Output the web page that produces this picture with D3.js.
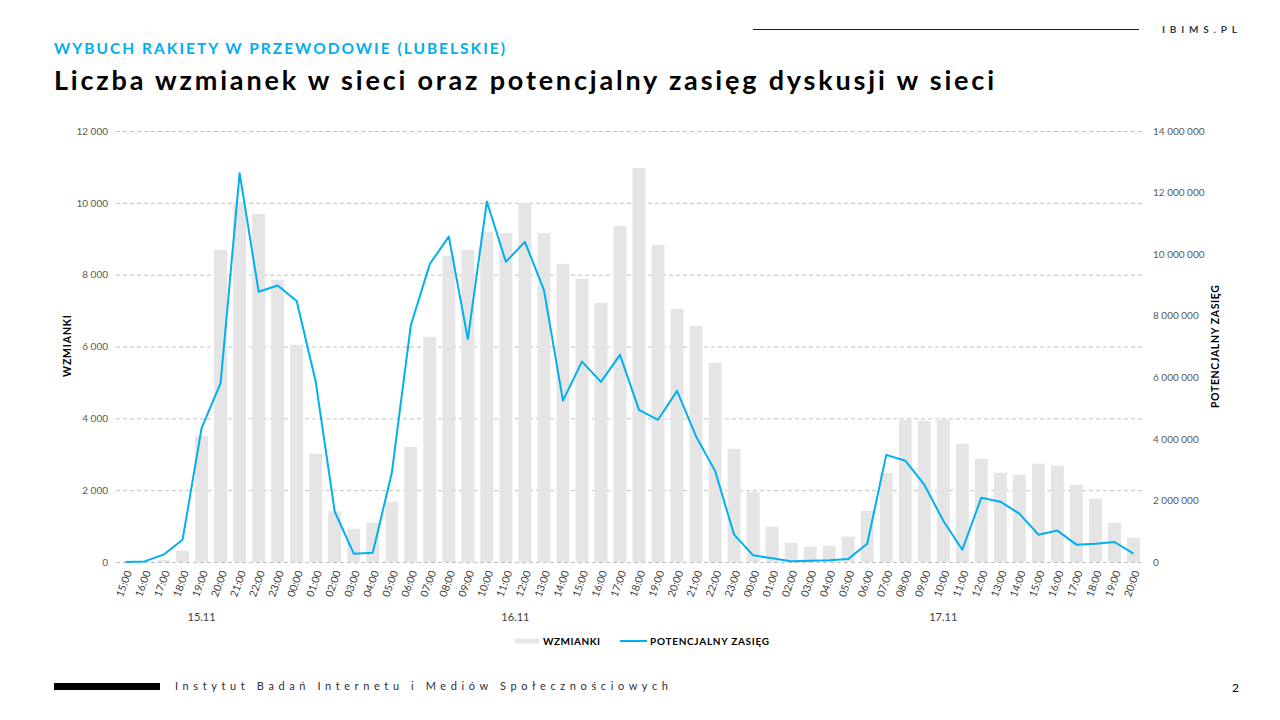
<!DOCTYPE html>
<html><head><meta charset="utf-8">
<script src="https://cdn.jsdelivr.net/npm/d3@7/dist/d3.min.js"></script>
<style>body{margin:0;background:#fff} svg{display:block}</style>
</head><body>
<svg id="c" width="1280" height="720"></svg>
<script>
// ---- data ----
const dayLabels = ["15.11", "16.11", "17.11"];
const dayHours = [
  ["15:00","16:00","17:00","18:00","19:00","20:00","21:00","22:00","23:00"],
  ["00:00","01:00","02:00","03:00","04:00","05:00","06:00","07:00","08:00","09:00","10:00","11:00","12:00","13:00","14:00","15:00","16:00","17:00","18:00","19:00","20:00","21:00","22:00","23:00"],
  ["00:00","01:00","02:00","03:00","04:00","05:00","06:00","07:00","08:00","09:00","10:00","11:00","12:00","13:00","14:00","15:00","16:00","17:00","18:00","19:00","20:00"]
];
const mentions = [
  5, 15, 50, 315, 3515, 8690, 10030, 9690, 7855,
  6047, 3014, 1410, 927, 1094, 1679, 3209, 6269, 8523, 8690, 9190, 9163, 9997, 9163, 8300, 7883, 7215, 9357, 10971, 8829, 7048, 6575, 5546, 3153,
  1957, 983, 538, 427, 454, 705, 1428, 2485, 3960, 3932, 3960, 3292, 2875, 2485, 2430, 2736, 2680, 2152, 1762, 1094, 677
];
const reach = [
  0, 20000, 238000, 725000, 4349000, 5810000, 12630000, 8780000, 8980000,
  8480000, 5860000, 1640000, 270000, 303000, 2890000, 7680000, 9680000, 10570000, 7240000, 11710000, 9750000, 10400000, 8840000, 5240000, 6510000, 5850000, 6730000, 4940000, 4620000, 5560000, 4080000, 2960000, 887000,
  216000, 119000, 22000, 43000, 54000, 97000, 595000, 3480000, 3290000, 2510000, 1340000, 400000, 2090000, 1960000, 1570000, 887000, 1020000, 563000, 595000, 649000, 270000
];
const leftTicks = [0, 2000, 4000, 6000, 8000, 10000, 12000];
const rightTicks = [0, 2000000, 4000000, 6000000, 8000000, 10000000, 12000000, 14000000];

// ---- build ----
const cats = [];
dayHours.forEach((hs, d) => hs.forEach(h => cats.push({key: dayLabels[d] + " " + h, hour: h, day: d})));
const rows = cats.map((c, i) => ({...c, m: mentions[i], r: reach[i]}));

const svg = d3.select("#c");
const L = 116, R = 1143, B = 562, T = 131;
const fmt = v => d3.format(",")(v).replace(/,/g, " ");

const x = d3.scaleBand().domain(cats.map(c => c.key)).range([L, R]).paddingInner(0.32).paddingOuter(0.16);
const yL = d3.scaleLinear().domain([0, 12000]).range([B, T]);
const yR = d3.scaleLinear().domain([0, 14000000]).range([B, T]);

// header
svg.append("text").attr("x", 54).attr("y", 54).text("WYBUCH RAKIETY W PRZEWODOWIE (LUBELSKIE)")
  .attr("font-family", "Lato").attr("font-weight", 700).attr("font-size", 15.5).attr("fill", "#00aeef")
  .attr("textLength", 451).attr("lengthAdjust", "spacing");
svg.append("text").attr("x", 54).attr("y", 90).text("Liczba wzmianek w sieci oraz potencjalny zasięg dyskusji w sieci")
  .attr("font-family", "Lato").attr("font-weight", 700).attr("font-size", 27).attr("fill", "#000")
  .attr("textLength", 940).attr("lengthAdjust", "spacing");
svg.append("line").attr("x1", 753).attr("x2", 1139).attr("y1", 29.5).attr("y2", 29.5).attr("stroke", "#1b1e2b").attr("stroke-width", 1);
svg.append("text").attr("x", 1162).attr("y", 33).text("IBIMS.PL")
  .attr("font-family", "Lato").attr("font-weight", 700).attr("font-size", 10).attr("fill", "#333a45")
  .attr("textLength", 75).attr("lengthAdjust", "spacing");

// grid
const grid = svg.append("g").attr("transform", `translate(${L},0)`)
  .call(d3.axisLeft(yL).tickValues(leftTicks).tickSize(-(R - L)).tickFormat(""));
grid.select(".domain").remove();
grid.selectAll("line").attr("stroke", "#c0c0c0").attr("stroke-dasharray", "4,3");

// left axis labels
const ax = svg.append("g").attr("transform", `translate(${L},0)`)
  .call(d3.axisLeft(yL).tickValues(leftTicks).tickSize(0).tickPadding(8).tickFormat(fmt));
ax.select(".domain").remove();
ax.selectAll("text").attr("font-family", "Lato").attr("font-size", 10).attr("fill", "#595959");

// right axis labels
const ar = svg.append("g").attr("transform", `translate(${R},0)`)
  .call(d3.axisRight(yR).tickValues(rightTicks).tickSize(0).tickPadding(10).tickFormat(fmt));
ar.select(".domain").remove();
ar.selectAll("text").attr("font-family", "Lato").attr("font-size", 10).attr("fill", "#595959");

// axis titles
svg.append("text").attr("transform", "translate(70.5,346) rotate(-90)").attr("text-anchor", "middle")
  .text("WZMIANKI").attr("font-family", "Lato").attr("font-weight", 700).attr("font-size", 10.5).attr("fill", "#000")
  .attr("textLength", 62).attr("lengthAdjust", "spacing");
svg.append("text").attr("transform", "translate(1219,346.5) rotate(-90)").attr("text-anchor", "middle")
  .text("POTENCJALNY ZASIĘG").attr("font-family", "Lato").attr("font-weight", 700).attr("font-size", 10.5).attr("fill", "#000")
  .attr("textLength", 123).attr("lengthAdjust", "spacing");

// bars
svg.append("g").selectAll("rect").data(rows).join("rect")
  .attr("x", d => x(d.key)).attr("width", x.bandwidth())
  .attr("y", d => yL(d.m)).attr("height", d => B - yL(d.m))
  .attr("fill", "#e5e5e5");

// line
const line = d3.line().x(d => x(d.key) + x.bandwidth() / 2).y(d => yR(d.r));
svg.append("path").datum(rows).attr("d", line).attr("fill", "none")
  .attr("stroke", "#00b0f0").attr("stroke-width", 2).attr("stroke-linejoin", "round");

// x axis
const axb = svg.append("g").attr("transform", `translate(0,${B})`)
  .call(d3.axisBottom(x).tickSize(0).tickPadding(0).tickFormat(k => cats.find(c => c.key === k).hour));
axb.select(".domain").remove();
axb.selectAll(".tick text")
  .attr("transform", "translate(3,9) rotate(-70)")
  .attr("text-anchor", "end").attr("dy", "0.35em").attr("y", 0)
  .attr("font-family", "Lato").attr("font-size", 10.5).attr("fill", "#404040");

// day labels
let start = 0;
dayLabels.forEach((lab, d) => {
  const n = dayHours[d].length;
  const x0 = x(cats[start].key), x1 = x(cats[start + n - 1].key) + x.bandwidth();
  svg.append("text").attr("x", (x0 + x1) / 2).attr("y", 621).attr("text-anchor", "middle")
    .text(lab).attr("font-family", "Lato").attr("font-size", 11).attr("fill", "#404040");
  start += n;
});

// legend
svg.append("rect").attr("x", 515).attr("y", 638.5).attr("width", 24).attr("height", 5).attr("fill", "#e5e5e5");
svg.append("text").attr("x", 543).attr("y", 644.5).text("WZMIANKI")
  .attr("font-family", "Lato").attr("font-weight", 700).attr("font-size", 10).attr("fill", "#000")
  .attr("textLength", 57).attr("lengthAdjust", "spacing");
svg.append("line").attr("x1", 620).attr("x2", 647).attr("y1", 641).attr("y2", 641).attr("stroke", "#00b0f0").attr("stroke-width", 2);
svg.append("text").attr("x", 650).attr("y", 644.5).text("POTENCJALNY ZASIĘG")
  .attr("font-family", "Lato").attr("font-weight", 700).attr("font-size", 10).attr("fill", "#000")
  .attr("textLength", 119).attr("lengthAdjust", "spacing");

// footer
svg.append("rect").attr("x", 54).attr("y", 683).attr("width", 106).attr("height", 7).attr("fill", "#000");
svg.append("text").attr("x", 175).attr("y", 690).text("Instytut Badań Internetu i Mediów Społecznościowych")
  .attr("font-family", "Lato").attr("font-size", 11).attr("fill", "#2a2f3a")
  .attr("textLength", 493).attr("lengthAdjust", "spacing");
svg.append("text").attr("x", 1232).attr("y", 692).text("2")
  .attr("font-family", "Lato").attr("font-size", 12).attr("fill", "#000");
</script>
</body></html>
